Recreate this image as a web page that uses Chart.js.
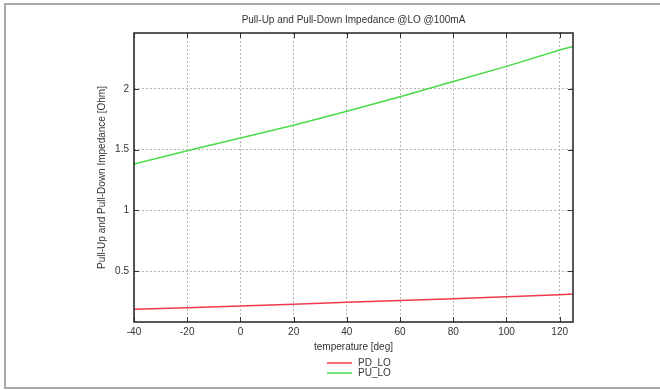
<!DOCTYPE html>
<html>
<head>
<meta charset="utf-8">
<script src="https://cdn.jsdelivr.net/npm/chart.js@4/dist/chart.umd.min.js"></script>
<style>
  html, body { margin: 0; padding: 0; background: #fff; }
  canvas { display: block; }
</style>
</head>
<body>
<canvas id="imp" width="660" height="390"></canvas>
<script>
/* data */
var TEMPS = [-40, -20, 0, 20, 40, 60, 80, 100, 120, 125];
var PD_LO = [0.185, 0.198, 0.212, 0.227, 0.242, 0.257, 0.272, 0.288, 0.305, 0.31];
var PU_LO = [1.38, 1.49, 1.595, 1.70, 1.815, 1.935, 2.06, 2.185, 2.32, 2.35];
var SERIES_NAMES = ['PD_LO', 'PU_LO'];
var SERIES_COLORS = ['#ee3a4c', '#48dc48'];

var FONT = 'Liberation Sans, Arial, sans-serif';
var TXT = '#333';

function pts(vals) {
  return TEMPS.map(function (t, i) { return { x: t, y: vals[i] }; });
}

/* frame, plot box, mirrored inner ticks, legend */
var decor = {
  id: 'decor',
  beforeDraw: function (chart) {
    var ctx = chart.ctx;
    ctx.save();
    ctx.strokeStyle = '#a8a8a8';
    ctx.lineWidth = 2;
    ctx.beginPath();
    ctx.moveTo(660, 4); ctx.lineTo(5, 4); ctx.lineTo(5, 388); ctx.lineTo(660, 388);
    ctx.stroke();
    ctx.restore();
  },
  afterDatasetsDraw: function (chart) {
    var ctx = chart.ctx, a = chart.chartArea;
    var xs = chart.scales.x, ys = chart.scales.y;
    ctx.save();
    ctx.strokeStyle = '#333';
    ctx.lineWidth = 1;
    ctx.beginPath();
    xs.ticks.forEach(function (t) {
      var px = Math.round(xs.getPixelForValue(t.value)) + 0.5;
      ctx.moveTo(px, a.bottom); ctx.lineTo(px, a.bottom - 5);
      ctx.moveTo(px, a.top); ctx.lineTo(px, a.top + 5);
    });
    ys.ticks.forEach(function (t) {
      var py = Math.round(ys.getPixelForValue(t.value)) + 0.5;
      ctx.moveTo(a.left, py); ctx.lineTo(a.left + 5, py);
      ctx.moveTo(a.right, py); ctx.lineTo(a.right - 5, py);
    });
    ctx.stroke();
    ctx.strokeStyle = '#222';
    ctx.lineWidth = 1.5;
    ctx.strokeRect(a.left, a.top, a.right - a.left, a.bottom - a.top);
    ctx.restore();
  },
  afterDraw: function (chart) {
    var ctx = chart.ctx;
    ctx.save();
    ctx.font = '10px ' + FONT;
    ctx.textBaseline = 'middle';
    ctx.textAlign = 'left';
    chart.data.datasets.forEach(function (ds, i) {
      var y = 363 + i * 10;
      ctx.strokeStyle = ds.borderColor;
      ctx.lineWidth = 1.5;
      ctx.beginPath();
      ctx.moveTo(327, y); ctx.lineTo(352, y);
      ctx.stroke();
      ctx.fillStyle = TXT;
      ctx.fillText(ds.label, 358, y);
    });
    ctx.restore();
  }
};

new Chart(document.getElementById('imp'), {
  type: 'line',
  data: {
    datasets: [
      { label: SERIES_NAMES[0], data: pts(PD_LO), borderColor: SERIES_COLORS[0], borderWidth: 1.5, pointRadius: 0, tension: 0 },
      { label: SERIES_NAMES[1], data: pts(PU_LO), borderColor: SERIES_COLORS[1], borderWidth: 1.5, pointRadius: 0, tension: 0 }
    ]
  },
  options: {
    responsive: false,
    animation: false,
    devicePixelRatio: 1,
    layout: { padding: { left: 47, right: 0, top: 0, bottom: 0 } },
    plugins: {
      legend: { display: false },
      tooltip: { enabled: false },
      title: {
        display: true,
        text: 'Pull-Up and Pull-Down Impedance @LO @100mA',
        color: TXT,
        font: { family: FONT, size: 10, weight: 'normal' },
        padding: { top: 14, bottom: 7 }
      }
    },
    scales: {
      x: {
        type: 'linear', position: 'bottom', min: -40, max: 125,
        ticks: { stepSize: 20, includeBounds: false, padding: 4, color: TXT, font: { family: FONT, size: 10 }, maxRotation: 0 },
        grid: { color: '#b4b4b4', lineWidth: 1, drawTicks: false },
        border: { display: false, dash: [2, 2] },
        title: { display: true, text: 'temperature [deg]', color: TXT, font: { family: FONT, size: 10 }, padding: { top: 0, bottom: 37 } },
        afterFit: function (s) { s.height = 68; }
      },
      y: {
        type: 'linear', position: 'left', min: 0.08, max: 2.46,
        ticks: {
          stepSize: 0.5, includeBounds: false, padding: 5, color: TXT, font: { family: FONT, size: 10 },
          callback: function (v) { return String(v); }
        },
        grid: { color: '#b4b4b4', lineWidth: 1, drawTicks: false },
        border: { display: false, dash: [2, 2] },
        title: { display: true, text: 'Pull-Up and Pull-Down Impedance [Ohm]', color: TXT, font: { family: FONT, size: 10 }, padding: { top: 49, bottom: 0 } },
        afterFit: function (s) { s.width = 87; }
      },
      y2: {
        type: 'linear', position: 'right', min: 0, max: 1,
        ticks: { display: false },
        grid: { display: false, drawTicks: false },
        border: { display: false },
        afterFit: function (s) { s.width = 87; }
      }
    }
  },
  plugins: [decor]
});
</script>
</body>
</html>
